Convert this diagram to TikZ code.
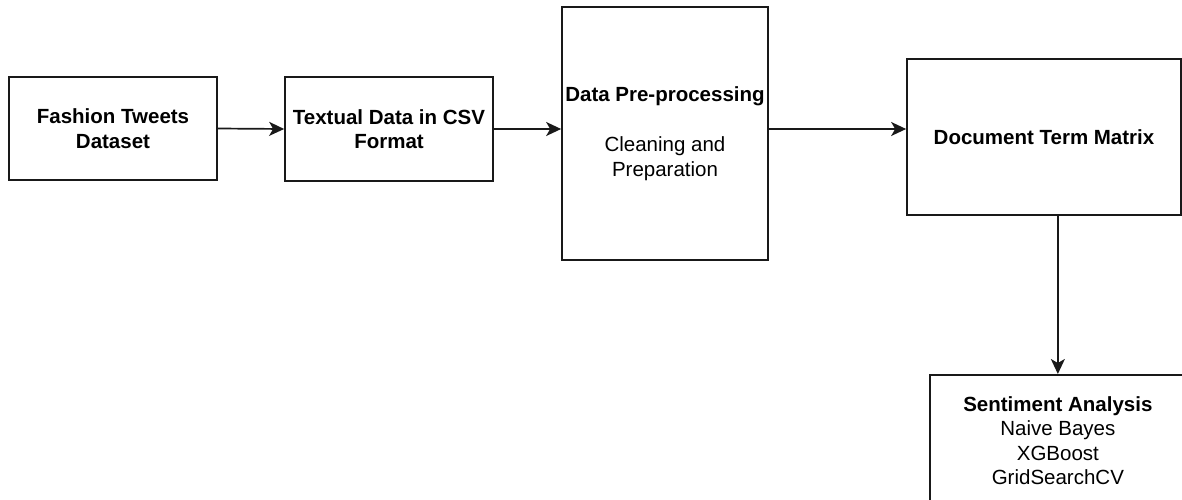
\documentclass[tikz,border=0pt]{standalone}
\usepackage{fontspec}
\setmainfont{Liberation Sans}
\usetikzlibrary{arrows.meta,calc}
\begin{document}
\begin{tikzpicture}[x=1pt,y=-1pt,
  box/.style={draw=black!90, line width=1.7pt, rectangle, inner sep=0pt, align=center,
    font=\fontsize{20.5}{24.5}\selectfont},
  flow/.style={draw=black!90, line width=1.7pt, -{Stealth[length=15pt,width=14pt,inset=4pt]}},
  txt/.style={inner sep=0pt, align=center, font=\fontsize{20.5}{24.5}\selectfont}]
  \useasboundingbox (0,0) rectangle (1182,500);
  \clip (0,0) rectangle (1182,500);

  % pipeline stages
  \node[box, minimum width=208pt, minimum height=103pt] (fash) at (113,128.5)
    {\textbf{Fashion Tweets}\\\textbf{Dataset}};
  \node[box, minimum width=208pt, minimum height=104pt] (csv) at (389,129)
    {\textbf{Textual Data in CSV}\\\textbf{Format}};
  \node[box, minimum width=206pt, minimum height=253pt] (pre) at (665,133.5)
    {\textbf{Data Pre-processing}\\[26pt]Cleaning and\\Preparation};
  \node[box, minimum width=274pt, minimum height=156pt] (dtm) at (1044,137)
    {\textbf{Document Term Matrix}};
  \node[box, anchor=north west, minimum width=256pt, minimum height=150pt] (sa) at (929,374) {};
  \node[txt, anchor=north] (satext) at ($(sa.north)+(0,22)$)
    {\textbf{Sentiment Analysis}\\Naive Bayes\\XGBoost\\GridSearchCV};

  % connectors
  \draw[flow] (fash.east) -- (csv.west);
  \draw[flow] (csv.east) -- (csv.east -| pre.west);
  \draw[flow] (csv.east -| pre.east) -- (csv.east -| dtm.west);
  \draw[flow] (sa.north |- dtm.south) -- (sa.north);
\end{tikzpicture}
\end{document}
